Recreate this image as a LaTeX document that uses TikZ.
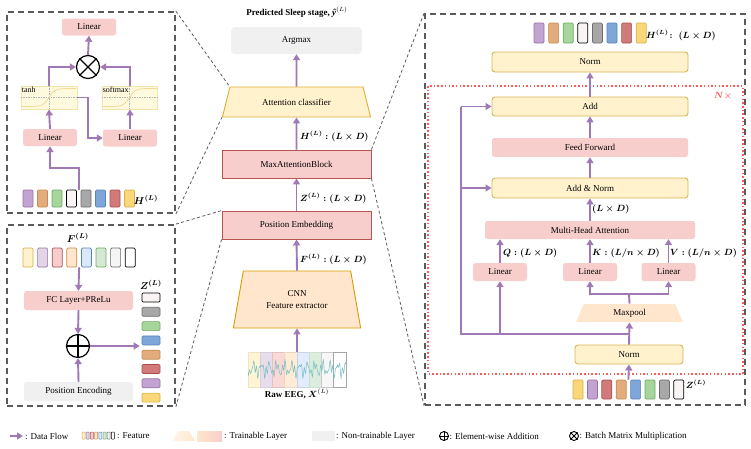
\documentclass[tikz,border=0pt]{standalone}
\usepackage{fontspec}
\setmainfont{Liberation Serif}
\usepackage{amsmath,bm}
\usepackage{tikz}
\usetikzlibrary{positioning,calc,shapes.geometric,arrows.meta}
\definecolor{flowc}{RGB}{160,120,182}
\definecolor{pinkf}{RGB}{248,206,204}
\definecolor{pinkd}{RGB}{184,84,80}
\definecolor{yelf}{RGB}{255,242,204}
\definecolor{yeld}{RGB}{214,182,86}
\definecolor{orf}{RGB}{255,230,204}
\definecolor{ord}{RGB}{215,155,0}
\definecolor{grayf}{RGB}{240,240,240}
\definecolor{panelc}{RGB}{90,90,90}
\definecolor{nred}{RGB}{255,90,90}
\definecolor{actf}{RGB}{255,249,222}
\definecolor{actd}{RGB}{242,228,170}
\definecolor{eegc}{RGB}{120,190,195}
% feature colours
\definecolor{cpur}{RGB}{195,163,209}\definecolor{dpur}{RGB}{150,115,166}
\definecolor{ctan}{RGB}{226,172,124}\definecolor{dtan}{RGB}{196,140,80}
\definecolor{cgrn}{RGB}{166,214,156}\definecolor{dgrn}{RGB}{110,170,100}
\definecolor{cwht}{RGB}{250,245,245}
\definecolor{cgry}{RGB}{168,168,168}\definecolor{dgry}{RGB}{110,110,110}
\definecolor{cblu}{RGB}{126,166,216}\definecolor{dblu}{RGB}{90,130,190}
\definecolor{cred}{RGB}{208,122,122}\definecolor{dred}{RGB}{170,80,80}
\definecolor{cyel}{RGB}{250,215,120}\definecolor{dyel}{RGB}{214,175,70}
\definecolor{lyel}{RGB}{255,242,204}\definecolor{lpur}{RGB}{225,213,231}
\definecolor{lred}{RGB}{248,206,204}\definecolor{lor}{RGB}{255,230,204}
\definecolor{lblu}{RGB}{218,232,252}\definecolor{lgrn}{RGB}{213,232,212}
\definecolor{lgry}{RGB}{245,245,245}\definecolor{mgry}{RGB}{102,102,102}
\newcommand{\dfont}{\fontsize{9}{10.5}\selectfont}
\newcommand{\sigcurve}[2]{\draw[curvec] plot[domain=-27:27,samples=40,smooth] ({#1+\x},{#2-9*tanh(\x/6)});}
\tikzset{
  flow/.style={draw=flowc,line width=1.9pt,-{Triangle[length=6pt,width=7pt]}},
  flowline/.style={draw=flowc,line width=1.9pt},
  panel/.style={draw=panelc,line width=1.8pt,dash pattern=on 6pt off 4pt,inner sep=0},
  conn/.style={draw=panelc,line width=0.8pt,dash pattern=on 3pt off 2.5pt},
  pinkbox/.style={fill=pinkf,rounded corners=2.5pt,font=\dfont,inner sep=1pt,minimum width=54,minimum height=17},
  blockbox/.style={fill=pinkf,draw=pinkd,line width=0.9pt,minimum width=149,minimum height=28,font=\dfont},
  ybox/.style={fill=yelf,draw=yeld,line width=0.9pt,rounded corners=3pt,minimum width=196,minimum height=20,font=\dfont},
  gbox/.style={fill=grayf,rounded corners=4pt,font=\dfont},
  actbox/.style={fill=actf,draw=actd,line width=0.8pt,minimum width=56,minimum height=23,inner sep=0},
  actlbl/.style={font=\fontsize{8}{9}\selectfont,anchor=north west,inner sep=1pt},
  axisl/.style={draw=gray!60,line width=0.4pt,dash pattern=on 1.5pt off 1pt},
  curvec/.style={draw=actd!90!orange,line width=0.8pt},
  trap/.style={trapezium,trapezium stretches=true,inner sep=0,font=\dfont,line width=0.9pt},
  feat/.style={rounded corners=1.2pt,line width=0.7pt,inner sep=0,minimum width=10,minimum height=19},
  opnode/.style={circle,draw,line width=1.2pt,minimum size=23,inner sep=0},
  dimlbl/.style={font=\dfont\boldmath,anchor=west,inner sep=0},
  legtxt/.style={font=\dfont,anchor=west,inner sep=0},
}

\begin{document}
\begin{tikzpicture}[x=1pt,y=-1pt]
  \useasboundingbox (0,0) rectangle (751,448);
  \node[panel,minimum width=168,minimum height=201] (pcls) at (91,112.5) {};
  \node[panel,minimum width=168,minimum height=181] (ppos) at (91,315.5) {};
  \node[panel,minimum width=320,minimum height=391] (pmab) at (585,209.5) {};

  % centre column
  \node[font=\dfont\bfseries] (title) at (297,12) {Predicted Sleep stage, \textit{ŷ}$^{(L)}$};
  \node[gbox,minimum width=131,minimum height=27] (argmax) at (296.5,40.5) {Argmax};
  \node[trap,fill=yelf,draw=ord!80,trapezium left angle=59,trapezium right angle=59,
        minimum width=149,minimum height=30] (attn) at (296.5,102) {Attention classifier};
  \node[blockbox] (mab) at (296.5,164) {MaxAttentionBlock};
  \node[blockbox] (posemb) at (296.5,225) {Position Embedding};
  \node[trap,fill=orf,draw=ord,trapezium left angle=73,trapezium right angle=73,
        minimum width=128,minimum height=57,align=center] (cnn) at (297,299.5) {CNN\\[2pt]Feature extractor};
  \node[minimum width=98,minimum height=35,inner sep=0] (eeg) at (297,369.5) {};
  \foreach \f/\d [count=\i] in {lyel/dyel,lpur/dpur,lred/dred,lor/dtan,lblu/dblu,lgrn/dgrn,lgry/mgry,white/black}
    \path[fill=\f!80,draw=\d!35,line width=0.6pt] ({248+12.25*(\i-1)},352) rectangle +(12.25,35);
  \draw[eegc,line width=0.5pt] plot[domain=0:98,samples=260]
    ({248+\x},{369+4.5*sin(47*\x)+3*sin(113*\x+30)+2.5*sin(151*\x+70)});
  \node[font=\dfont\bfseries] (eeglbl) at (297,394) {Raw EEG, $\bm{X}^{(L)}$};
  \node[dimlbl] (lblh) at (300,136.5) {$H^{(L)} : (L\times D)$};
  \node[dimlbl] (lblz) at (300,198) {$Z^{(L)} : (L\times D)$};
  \node[dimlbl] (lblf) at (300,259) {$F^{(L)} : (L\times D)$};
  \draw[flow] (eeg.north) -- (cnn.south);
  \draw[flow] (cnn.north) -- (posemb.south);
  \draw[flow] (posemb.north) -- (mab.south);
  \draw[flow] (mab.north) -- (attn.south);
  \draw[flow] (attn.north) -- (argmax.south);

  % attention classifier panel
  \foreach \f/\d [count=\i] in {cpur/dpur,ctan/dtan,cgrn/dgrn,cwht/black,cgry/dgry,cblu/dblu,cred/dred,cyel/dyel}
    \node[feat,fill=\f,draw=\d,minimum height=17] (hin\i) at ({28+14.5*(\i-1)},198.5) {};
  \node[font=\fontsize{10}{12}\selectfont\boldmath] (hinlbl) at (146,200) {$H^{(L)}$};
  \node[pinkbox] (lin1) at (50,137.5) {Linear};
  \node[pinkbox] (lin2) at (130,138) {Linear};
  \node[actbox] (tanhb) at (49,97.5) {};
  \node[actbox,minimum width=55] (smaxb) at (129.5,97.5) {};
  \draw[axisl] (tanhb.west) -- (tanhb.east) (tanhb.north) -- (tanhb.south);
  \draw[axisl] (smaxb.west) -- (smaxb.east) (smaxb.north) -- (smaxb.south);
  \sigcurve{49}{97.5}
  \sigcurve{129.5}{97.5}
  \node[actlbl] (tanhlbl) at (tanhb.north west) {tanh};
  \node[actlbl] (smaxlbl) at (smaxb.north west) {softmax};
  \node[opnode] (mul) at (88,67) {};
  \draw[line width=1.2pt] (mul.45) -- (mul.225) (mul.135) -- (mul.315);
  \node[pinkbox] (linout) at (89,27) {Linear};
  \draw[flow] ($(hin4.north)!.5!(hin5.north)$) -- ++(0,-22) -| (lin1.south);
  \draw[flow] (lin1.north) -- (tanhb.south);
  \draw[flow] (lin2.north) -- (lin2.north |- smaxb.south);
  \draw[flow] (tanhb.east) -- ++(11,0) |- (lin2.west);
  \draw[flow] (tanhb.north) |- (mul.west);
  \draw[flow] (smaxb.north -| lin2.north) |- (mul.east);
  \draw[flow] (mul.north) -- (linout.south);

  % position embedding panel
  \node[font=\fontsize{10}{12}\selectfont\boldmath] (finlbl) at (78,238) {$F^{(L)}$};
  \foreach \f/\d [count=\i] in {lyel/dyel,lpur/dpur,lred/dred,lor/dtan,lblu/dblu,lgrn/dgrn,lgry/mgry,white/black}
    \node[feat,fill=\f,draw=\d] (fin\i) at ({28+14.6*(\i-1)},257.5) {};
  \node[pinkbox,minimum width=109,minimum height=19] (fc) at (78.5,300.5) {FC Layer+PReLu};
  \node[opnode] (addop) at (78,346) {};
  \draw[line width=1.2pt] (addop.north) -- (addop.south) (addop.west) -- (addop.east);
  \node[gbox,rounded corners=2.5pt,minimum width=109,minimum height=19] (penc) at (78.5,391.5) {Position Encoding};
  \node[font=\fontsize{10}{12}\selectfont\boldmath] (zoutlbl) at (151,285) {$Z^{(L)}$};
  \foreach \f/\d [count=\i] in {cwht/black,cgry/dgry,cgrn/dgrn,cblu/dblu,ctan/dtan,cred/dred,cpur/dpur,cyel/dyel}
    \node[feat,fill=\f,draw=\d,minimum width=18,minimum height=9] (zout\i) at (151,{297.5+14.3*(\i-1)}) {};
  \draw[flow] ($(fin4.south)!.5!(fin5.south)$) -- (fc.north);
  \draw[flow] (fc.south) -- (addop.north);
  \draw[flow] (penc.north) -- (addop.south);
  \draw[flow] (addop.east) -- ($(addop.east -| zout1.west)+(-2,0)$);

  % max attention block panel
  \draw[draw=nred,line width=1.6pt,dash pattern=on 1.5pt off 2.2pt] (428,86) rectangle (743,374);
  \node[text=nred,font=\dfont\boldmath] (nrep) at (723,96) {$N\times$};
  \foreach \f/\d [count=\i] in {cpur/dpur,ctan/dtan,cgrn/dgrn,cwht/black,cgry/dgry,cblu/dblu,cred/dred,cyel/dyel}
    \node[feat,fill=\f,draw=\d,minimum height=20] (hout\i) at ({539+14.6*(\i-1)},33) {};
  \node[dimlbl] (houtlbl) at (646,35) {$H^{(L)}\!:\;(L\times D)$};
  \node[ybox] (norm2) at (590,62) {Norm};
  \node[ybox,minimum height=19] (addb) at (590,106.5) {Add};
  \node[pinkbox,minimum width=196,minimum height=19] (ff) at (590,147.5) {Feed Forward};
  \node[ybox] (addnorm) at (590,188) {Add \& Norm};
  \node[pinkbox,minimum width=210,minimum height=18] (mha) at (590,230) {Multi-Head Attention};
  \node[dimlbl] (lblmha) at (592,209) {$(L\times D)$};
  \node[pinkbox,minimum height=18] (linq) at (500,272) {Linear};
  \node[pinkbox,minimum height=18] (link) at (590,272) {Linear};
  \node[pinkbox,minimum height=18] (linv) at (668.5,272) {Linear};
  \node[dimlbl] (lblq) at (503,253) {$Q : (L\times D)$};
  \node[dimlbl] (lblk) at (592,253) {$K : (L/n\times D)$};
  \node[dimlbl] (lblv) at (670,253) {$V : (L/n\times D)$};
  \node[trap,fill=orf,trapezium left angle=71.6,trapezium right angle=71.6,
        minimum width=107,minimum height=18] (maxpool) at (629.5,313) {Maxpool};
  \node[ybox,minimum width=108,minimum height=19] (norm1) at (629,354.5) {Norm};
  \foreach \f/\d [count=\i] in {cyel/dyel,cpur/dpur,cred/dred,ctan/dtan,cblu/dblu,cgrn/dgrn,cgry/dgry,cwht/black}
    \node[feat,fill=\f,draw=\d] (zin\i) at ({578+14.4*(\i-1)},389.5) {};
  \node[font=\dfont\boldmath] (zinlbl) at (696,384) {$Z^{(L)}$};
  \coordinate (split) at (629,334);
  \coordinate (res) at (461,334);
  \coordinate (kv) at (629,294);
  \draw[flow] ($(zin4.north)!.5!(zin5.north)$) -- (norm1.south);
  \draw[flow] (norm1.north) -- (maxpool.south);
  \draw[flowline] (split) -- (res) -- (res |- addb.west);
  \draw[flow] (res |- addb.west) -- (addb.west);
  \draw[flow] (res |- addnorm.west) -- (addnorm.west);
  \draw[flow] (linq.south |- res) -- (linq.south);
  \draw[flowline] (maxpool.north) -- (kv);
  \draw[flow] (kv) -| (link.south);
  \draw[flow] (kv) -| (linv.south);
  \draw[flow] (linq.north) -- (linq.north |- mha.south);
  \draw[flow] (link.north) -- (link.north |- mha.south);
  \draw[flow] (linv.north) -- (linv.north |- mha.south);
  \draw[flow] (mha.north) -- (addnorm.south);
  \draw[flow] (addnorm.north) -- (ff.south);
  \draw[flow] (ff.north) -- (addb.south);
  \draw[flow] (addb.north) -- (norm2.south);

  % zoom connectors
  \draw[conn] (pcls.north east) -- (attn.top left corner);
  \draw[conn] (pcls.south east) -- (attn.bottom left corner);
  \draw[conn] (ppos.north east) -- (posemb.north west);
  \draw[conn] (ppos.south east) -- (posemb.south west);
  \draw[conn] (mab.north east) -- (pmab.north west);
  \draw[conn] (mab.south east) -- (pmab.south west);

  % legend
  \coordinate (lga) at (10,436);
  \coordinate (lgb) at (23,436);
  \draw[flow,line width=1.5pt] (lga) -- (lgb);
  \node[legtxt] (lgflow) at (25,436) {: Data Flow};
  \foreach \f/\d [count=\i] in {lyel/dyel,lpur/dpur,lred/dred,lor/dtan,lblu/dblu,lgrn/dgrn,lgry/mgry,white/black}
    \node[feat,fill=\f,draw=\d,line width=0.5pt,rounded corners=0.5pt,minimum width=3,minimum height=7] (lgf\i) at ({83.5+4.2*(\i-1)},435.5) {};
  \node[legtxt] (lgfeat) at (117,436) {: Feature};
  \shade[left color=orf!40,right color=orf] (172,441) -- (178,431) -- (189,431) -- (195,441) -- cycle;
  \node[left color=orf,right color=pinkf,minimum width=25,minimum height=10,inner sep=0] (lgtr2) at (209.5,436) {};
  \node[legtxt] (lgtrain) at (224,436) {: Trainable Layer};
  \node[fill=grayf,minimum width=23,minimum height=10,inner sep=0] (lgnt) at (323.5,436) {};
  \node[legtxt] (lgntxt) at (336,436) {: Non-trainable Layer};
  \node[opnode,line width=0.9pt,minimum size=9] (lgadd) at (444,436) {};
  \draw[line width=0.9pt] (lgadd.north) -- (lgadd.south) (lgadd.west) -- (lgadd.east);
  \node[legtxt] (lgaddtxt) at (449.5,436) {: Element-wise Addition};
  \node[opnode,line width=0.9pt,minimum size=9] (lgmul) at (574,436) {};
  \draw[line width=0.9pt] (lgmul.45) -- (lgmul.225) (lgmul.135) -- (lgmul.315);
  \node[legtxt] (lgmultxt) at (579.5,436) {: Batch Matrix Multiplication};
\end{tikzpicture}
\end{document}
